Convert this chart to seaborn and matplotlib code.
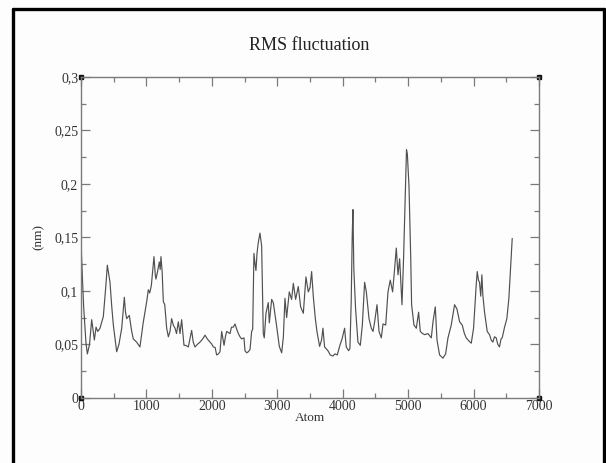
import numpy as np
import pandas as pd
import matplotlib
matplotlib.use("Agg")
import matplotlib.pyplot as plt
from matplotlib.ticker import MultipleLocator, FuncFormatter
from matplotlib.lines import Line2D
import seaborn as sns

# RMSF per atom
atom = [
    0, 40, 76, 97, 130, 163, 204, 230, 255, 290, 341, 380, 402, 443, 470, 494,
    545, 580, 622, 662, 680, 698, 738, 775, 799, 850, 901, 950, 1004, 1029,
    1050, 1075, 1115, 1135, 1145, 1170, 1197, 1210, 1222, 1240, 1258, 1280,
    1309, 1335, 1360, 1385, 1410, 1437, 1460, 1487, 1513, 1538, 1560, 1574,
    1600, 1640, 1665, 1691, 1715, 1742, 1780, 1818, 1860, 1895, 1930, 1971,
    2000, 2022, 2050, 2073, 2100, 2124, 2150, 2170, 2186, 2210, 2227, 2277,
    2300, 2328, 2354, 2380, 2405, 2430, 2455, 2491, 2506, 2532, 2557, 2583,
    2608, 2624, 2643, 2660, 2674, 2690, 2709, 2735, 2761, 2786, 2801, 2827,
    2862, 2878, 2914, 2939, 2965, 2990, 3031, 3067, 3093, 3117, 3143, 3183,
    3219, 3245, 3280, 3321, 3357, 3398, 3438, 3474, 3500, 3525, 3550, 3580,
    3606, 3647, 3677, 3698, 3723, 3774, 3810, 3850, 3881, 3917, 3957, 3990,
    4029, 4054, 4090, 4110, 4130, 4145, 4156, 4170, 4197, 4233, 4269, 4300,
    4335, 4361, 4402, 4437, 4463, 4488, 4524, 4555, 4590, 4616, 4657, 4692,
    4727, 4763, 4794, 4819, 4845, 4870, 4906, 4930, 4975, 4988, 5013, 5040,
    5053, 5089, 5125, 5160, 5186, 5220, 5252, 5303, 5354, 5380, 5415, 5441,
    5481, 5532, 5573, 5609, 5659, 5710, 5746, 5787, 5827, 5860, 5888, 5930,
    5965, 6000, 6040, 6056, 6075, 6091, 6110, 6127, 6142, 6168, 6209, 6244,
    6270, 6295, 6320, 6346, 6370, 6397, 6420, 6438, 6474, 6509, 6540, 6565,
    6591,
]
rmsf = [
    0.144, 0.085, 0.051, 0.041, 0.050, 0.073, 0.054, 0.066, 0.062, 0.065, 0.076,
    0.105, 0.124, 0.108, 0.085, 0.068, 0.043, 0.050, 0.065, 0.094, 0.080, 0.074,
    0.077, 0.062, 0.055, 0.052, 0.0475, 0.070, 0.090, 0.101, 0.098, 0.105, 0.132,
    0.115, 0.111, 0.118, 0.127, 0.120, 0.132, 0.118, 0.090, 0.087, 0.065, 0.057,
    0.062, 0.074, 0.068, 0.065, 0.060, 0.071, 0.060, 0.073, 0.058, 0.049, 0.049,
    0.0475, 0.055, 0.063, 0.052, 0.0475, 0.050, 0.052, 0.055, 0.0585, 0.055,
    0.052, 0.050, 0.0475, 0.047, 0.040, 0.041, 0.043, 0.062, 0.055, 0.049, 0.058,
    0.062, 0.060, 0.066, 0.066, 0.069, 0.064, 0.060, 0.057, 0.055, 0.056, 0.044,
    0.042, 0.043, 0.045, 0.062, 0.064, 0.135, 0.125, 0.119, 0.135, 0.145, 0.154,
    0.142, 0.060, 0.056, 0.079, 0.089, 0.070, 0.092, 0.089, 0.078, 0.067, 0.048,
    0.042, 0.057, 0.093, 0.075, 0.099, 0.092, 0.107, 0.092, 0.104, 0.085, 0.079,
    0.113, 0.099, 0.103, 0.118, 0.095, 0.075, 0.062, 0.048, 0.054, 0.065, 0.0475,
    0.044, 0.040, 0.039, 0.041, 0.040, 0.049, 0.055, 0.065, 0.0475, 0.044, 0.046,
    0.090, 0.150, 0.176, 0.120, 0.083, 0.052, 0.049, 0.068, 0.108, 0.099, 0.074,
    0.065, 0.062, 0.071, 0.087, 0.062, 0.056, 0.069, 0.068, 0.099, 0.110, 0.099,
    0.121, 0.140, 0.115, 0.130, 0.087, 0.130, 0.232, 0.228, 0.198, 0.130, 0.087,
    0.068, 0.065, 0.080, 0.062, 0.060, 0.059, 0.060, 0.056, 0.071, 0.085, 0.054,
    0.040, 0.037, 0.041, 0.056, 0.068, 0.087, 0.083, 0.071, 0.068, 0.060, 0.056,
    0.053, 0.051, 0.065, 0.105, 0.118, 0.110, 0.108, 0.095, 0.115, 0.096, 0.080,
    0.062, 0.059, 0.054, 0.052, 0.057, 0.056, 0.050, 0.0475, 0.055, 0.056, 0.066,
    0.074, 0.093, 0.121, 0.149,
]

title = "RMS fluctuation"
x_label = "Atom"
y_label = "(nm)"

df = pd.DataFrame({"atom": atom, "rmsf": rmsf})

sns.set_style("white")
plt.rcParams["font.family"] = ["Liberation Serif", "DejaVu Serif"]

fig = plt.figure(figsize=(6.06, 4.63), dpi=100)
fig.patch.set_facecolor("#fdfdfd")
ax = fig.add_axes([0.1337, 0.141, 0.7557, 0.6926])
ax.set_facecolor("#fdfdfd")

sns.lineplot(data=df, x="atom", y="rmsf", ax=ax, color="#505050",
             linewidth=0.85, estimator=None, sort=False)

ax.set_xlim(0, 7000)
ax.set_ylim(0, 0.3)
ax.xaxis.set_major_locator(MultipleLocator(1000))
ax.xaxis.set_minor_locator(MultipleLocator(500))
ax.yaxis.set_major_locator(MultipleLocator(0.05))
ax.yaxis.set_minor_locator(MultipleLocator(0.025))


def comma_fmt(v, pos):
    if abs(v) < 1e-9:
        return "0"
    return f"{v:g}".replace(".", ",")


ax.yaxis.set_major_formatter(FuncFormatter(comma_fmt))
ax.xaxis.set_major_formatter(FuncFormatter(lambda v, p: f"{v:.0f}"))

axis_col = "#7a7a7a"
for s in ax.spines.values():
    s.set_color(axis_col)
    s.set_linewidth(1.0)
    s.set_visible(True)

ax.tick_params(which="both", direction="in", top=True, right=True,
               bottom=True, left=True, colors=axis_col, labelcolor="#333333",
               labelsize=10)
ax.tick_params(which="major", length=6.5, width=0.9, pad=2)
ax.tick_params(which="minor", length=3.5, width=0.9)

ax.set_xlabel(x_label, fontsize=9.5, color="#333333", labelpad=-1)
ax.set_ylabel(y_label, fontsize=9.5, color="#333333", labelpad=7)
ax.grid(False)

# little corner squares, as in the original plot
ax.plot([0, 1, 0, 1], [0, 0, 1, 1], "s", color="#111111", markersize=3.5,
        transform=ax.transAxes, clip_on=False)

fig.text(0.511, 0.901, title, ha="center", va="center", fontsize=13,
         color="#222222")

# black frame around the picture (left, top, right)
frame_kw = dict(transform=fig.transFigure, color="black", linewidth=2.4)
fig.add_artist(Line2D([0.0215, 0.0215], [0.0, 0.9806], **frame_kw))
fig.add_artist(Line2D([0.0215, 0.9967], [0.9806, 0.9806], **frame_kw))
fig.add_artist(Line2D([0.9967, 0.9967], [0.0, 0.9806], **frame_kw))

fig.savefig("out.png", dpi=100, facecolor=fig.get_facecolor())
